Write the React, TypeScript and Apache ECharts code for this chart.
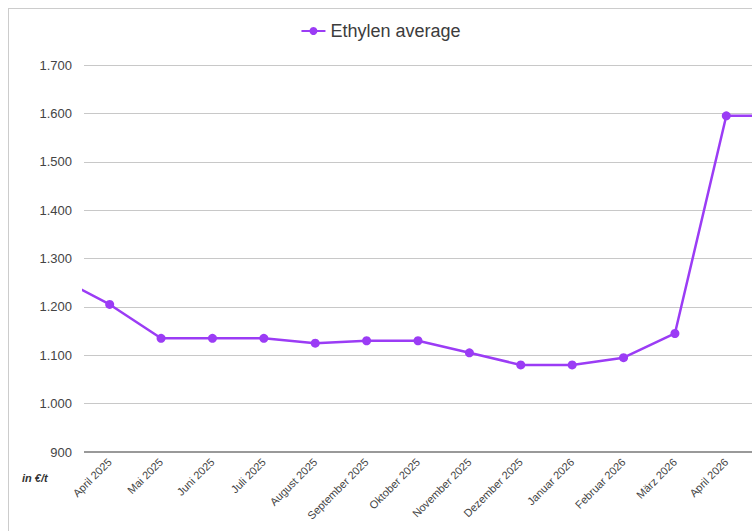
import React, { useEffect, useRef } from "react";
import * as echarts from "echarts";

const months = [
  "März 2025",
  "April 2025",
  "Mai 2025",
  "Juni 2025",
  "Juli 2025",
  "August 2025",
  "September 2025",
  "Oktober 2025",
  "November 2025",
  "Dezember 2025",
  "Januar 2026",
  "Februar 2026",
  "März 2026",
  "April 2026",
  "Mai 2026",
];
const ethylenAverage = [1261, 1205, 1135, 1135, 1135, 1125, 1130, 1130, 1105, 1080, 1080, 1095, 1145, 1595, 1595];
const firstVisible = 1;
const lastVisible = 13;
const yMin = 900;
const yMax = 1700;
const yStep = 100;
const seriesName = "Ethylen average";
const unitLabel = "in €/t";

const fmt = (v: number) => String(v).replace(/\B(?=(\d{3})+(?!\d))/g, ".");

export default function App() {
  const ref = useRef<HTMLDivElement>(null);
  useEffect(() => {
    document.documentElement.style.overflow = "hidden";
    document.body.style.margin = "8px 0 0 8px";
    if (!ref.current) return;
    const chart = echarts.init(ref.current, undefined, { renderer: "svg" });
    const font = "'Liberation Sans', Arial, sans-serif";
    chart.setOption({
      animation: false,
      textStyle: { fontFamily: font },
      legend: {
        top: 8,
        left: "center",
        itemWidth: 24,
        itemHeight: 10,
        itemGap: 4,
        textStyle: { fontSize: 18, color: "#3c3c3c", fontFamily: font },
        data: [seriesName],
      },
      grid: { left: 75, right: 0, top: 56, bottom: 79, containLabel: false },
      xAxis: {
        type: "category",
        data: months,
        boundaryGap: true,
        min: firstVisible,
        max: lastVisible,
        axisLine: { show: false },
        axisTick: { show: false },
        splitLine: { show: false },
        axisLabel: {
          rotate: 45,
          margin: 8,
          fontSize: 11,
          color: "#444",
          fontFamily: font,
          interval: 0,
        },
      },
      yAxis: {
        type: "value",
        min: yMin,
        max: yMax,
        interval: yStep,
        axisLine: { show: false },
        axisTick: { show: false },
        axisLabel: {
          margin: 12,
          fontSize: 13,
          color: "#444",
          fontFamily: font,
          formatter: (v: number) => fmt(v),
        },
        splitLine: {
          lineStyle: { color: "#c8c8c8", width: 1 },
        },
      },
      graphic: [
        {
          type: "line",
          shape: { x1: 75, y1: 443, x2: 760, y2: 443 },
          style: { stroke: "#999", lineWidth: 2 },
          z: 10,
        },
        {
          type: "text",
          left: 13,
          top: 463,
          style: {
            text: unitLabel,
            font: `italic bold 11px ${font}`,
            fill: "#333",
          },
        },
      ],
      series: [
        {
          name: seriesName,
          type: "line",
          data: ethylenAverage,
          symbol: "circle",
          symbolSize: 9,
          clip: true,
          lineStyle: { color: "#9b3cf5", width: 2.5 },
          itemStyle: { color: "#9b3cf5" },
          z: 5,
        },
      ],
    });
    return () => chart.dispose();
  }, []);
  return (
    <div
      style={{
        width: 743,
        height: 522,
        borderLeft: "1px solid #cccccc",
        borderTop: "1px solid #cccccc",
        background: "#fff",
      }}
    >
      <div ref={ref} style={{ width: 743, height: 522 }} />
    </div>
  );
}
